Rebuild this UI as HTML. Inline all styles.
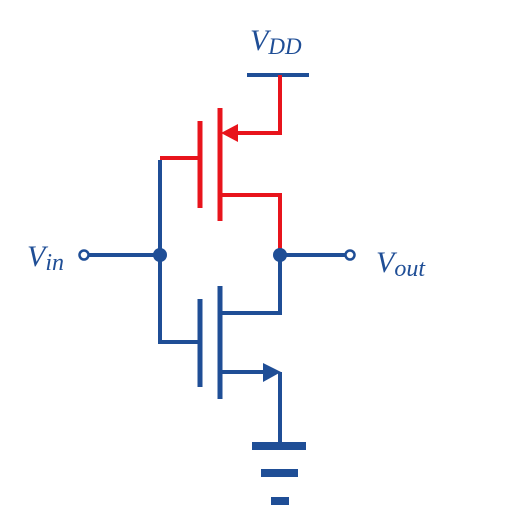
<!DOCTYPE html>
<html><head><meta charset="utf-8"><style>
html,body{margin:0;padding:0;background:#fff;width:517px;height:522px;overflow:hidden}
text{font-family:"Liberation Serif",serif;font-style:italic;fill:#1f4e96}
</style></head><body>
<svg width="517" height="522" viewBox="0 0 517 522">
<g stroke="#1f4e96" stroke-width="4" fill="none">
<line x1="247" y1="75" x2="309" y2="75"/>
<line x1="88" y1="255" x2="160" y2="255"/>
<line x1="280" y1="255" x2="345" y2="255"/>
<polyline points="160,160 160,342 200,342"/>
<line x1="200" y1="299" x2="200" y2="387" stroke-width="5"/>
<line x1="220" y1="286" x2="220" y2="399" stroke-width="5"/>
<polyline points="220,313 280,313 280,255"/>
<polyline points="220,372 266,372"/>
<polyline points="280,372 280,446"/>
</g>
<polygon points="263,363 281,372 263,382" fill="#1f4e96"/>
<g fill="#1f4e96">
<rect x="252" y="442" width="54" height="8"/>
<rect x="261" y="469" width="37" height="8"/>
<rect x="271" y="497" width="18" height="8"/>
</g>
<g stroke="#e8141c" stroke-width="4" fill="none">
<polyline points="280,75 280,133 236,133"/>
<polyline points="160,158 200,158"/>
<line x1="200" y1="121" x2="200" y2="208" stroke-width="5"/>
<line x1="220" y1="108" x2="220" y2="221" stroke-width="5"/>
<polyline points="220,195 280,195 280,255"/>
</g>
<polygon points="221,133 238,124 238,142" fill="#e8141c"/>
<circle cx="160" cy="255" r="7" fill="#1f4e96"/>
<circle cx="280" cy="255" r="7" fill="#1f4e96"/>
<circle cx="84" cy="255" r="4.5" fill="#fff" stroke="#1f4e96" stroke-width="2.5"/>
<circle cx="350" cy="255" r="4.5" fill="#fff" stroke="#1f4e96" stroke-width="2.5"/>
<text x="27" y="266" font-size="30">V<tspan font-size="24" dy="4">in</tspan></text>
<text x="376" y="272" font-size="30">V<tspan font-size="24" dy="4">out</tspan></text>
<text x="250" y="50" font-size="30">V<tspan font-size="23" dy="4">DD</tspan></text>
</svg>
</body></html>
